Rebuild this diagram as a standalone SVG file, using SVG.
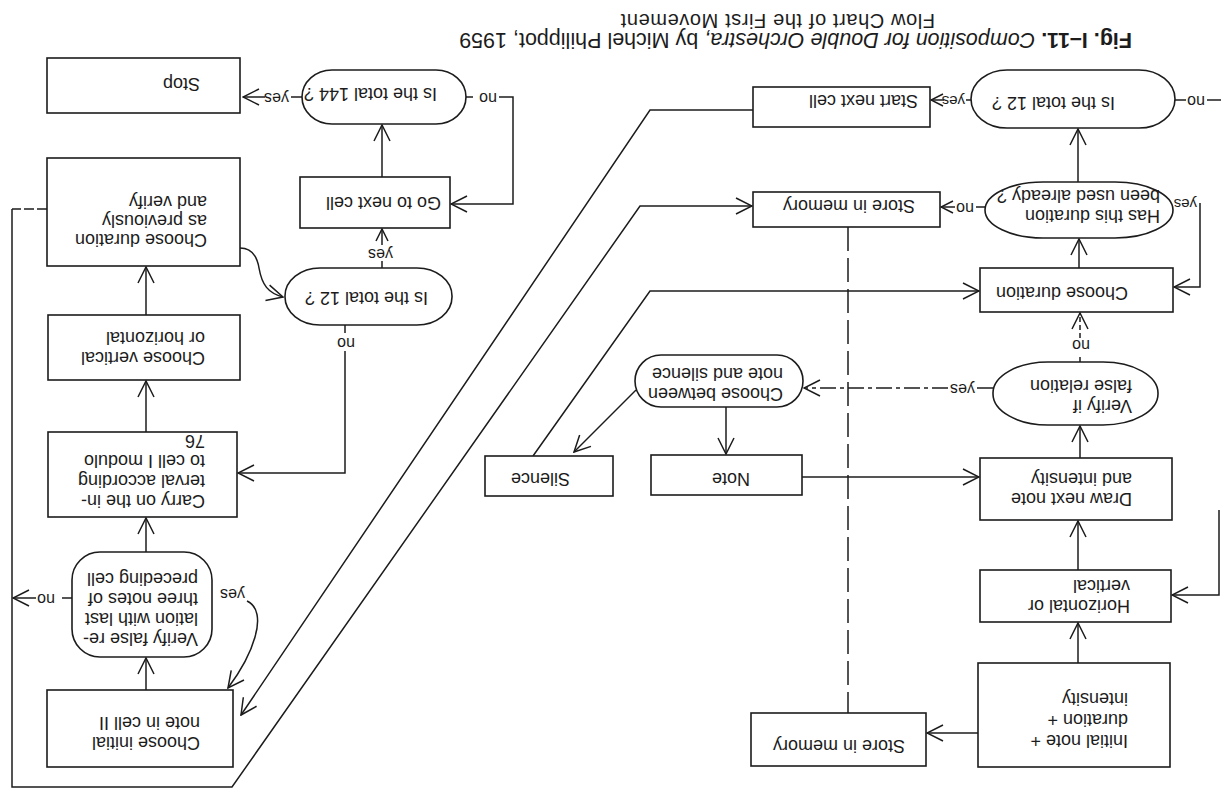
<svg xmlns="http://www.w3.org/2000/svg" width="1221" height="791" viewBox="0 0 1221 791">
<style>
.bx{fill:#fff;stroke:#1c1c1c;stroke-width:1.6}
.t{font-family:"Liberation Sans",Arial,sans-serif;font-size:18px;fill:#1c1c1c}
.lb{font-family:"Liberation Sans",Arial,sans-serif;font-size:16px;fill:#1c1c1c}
.ls{font-family:"Liberation Sans",Arial,sans-serif;font-size:15px;fill:#1c1c1c}
.ln{fill:none;stroke:#1c1c1c;stroke-width:1.5}
.ar{marker-end:url(#ah)}
.as{marker-end:url(#ahs)}
.dl{stroke-dasharray:24 7}
.ds{stroke-dasharray:10 3}
.dn{stroke-dasharray:5 3}
.dd{stroke-dasharray:16 4 4 4}
</style>
<defs>
<marker id="ah" viewBox="0 0 18 18" refX="17" refY="9" markerWidth="18" markerHeight="18" markerUnits="userSpaceOnUse" orient="auto">
<path d="M1,1 L17,9 L1,17" fill="none" stroke="#1c1c1c" stroke-width="1.5"/>
</marker>
<marker id="ahs" viewBox="0 0 14 14" refX="13" refY="7" markerWidth="14" markerHeight="14" markerUnits="userSpaceOnUse" orient="auto">
<path d="M1,1 L13,7 L1,13" fill="none" stroke="#1c1c1c" stroke-width="1.5"/>
</marker>
</defs>
<rect width="1221" height="791" fill="#fff"/>
<g id="caption">
<text class="t" style="font-size:21.5px" transform="translate(1132,33) rotate(180)"><tspan font-weight="bold">Fig. I–11. </tspan><tspan font-style="italic">Composition for Double Orchestra,</tspan><tspan> by Michel Philippot, 1959</tspan></text>
<text class="t" style="font-size:20px;letter-spacing:0.6px" transform="translate(935,14) rotate(180)">Flow Chart of the First Movement</text>
</g>
<g id="connectors">
<path class="ln" d="M302,97 H291"/><path class="ln ar" d="M265,97 H243"/>
<text class="lb" transform="translate(289,93) rotate(180)">yes</text>
<path class="ln" d="M466,97 H473"/><path class="ln ar" d="M499,97 H513 V204 H451"/>
<text class="lb" transform="translate(497,93) rotate(180)">no</text>
<path class="ln ar" d="M382,177 V125"/>
<path class="ln" d="M382,268 V261"/><path class="ln as" d="M382,245 V229"/>
<text class="lb" transform="translate(393,249) rotate(180)">yes</text>
<path class="ln ds" d="M47,209 H12"/>
<path class="ln ar" d="M12,209 V787 H232 L640,206 H752"/>
<path class="ln ar" d="M753,110 H650 L241,715"/>
<path class="ln ar" d="M240,248 C252,248 257,256 259,268 C262,285 268,293 283,297"/>
<path class="ln" d="M345,325 V333"/><path class="ln ar" d="M345,351 V473 H238"/>
<text class="lb" transform="translate(355,338) rotate(180)">no</text>
<path class="ln ar" d="M146,315 V267"/>
<path class="ln ar" d="M146,432 V381"/>
<path class="ln ar" d="M146,552 V518"/>
<path class="ln ar" d="M146,690 V658"/>
<path class="ln" d="M72,598 H62"/><path class="ln ar" d="M36,598 H13"/>
<text class="lb" transform="translate(55,594) rotate(180)">no</text>
<path class="ln ar" d="M247,601 C258,606 260,620 255,637 C250,655 240,672 228,688"/>
<text class="lb" transform="translate(245,589) rotate(180)">yes</text>
<path class="ln ar" d="M533,456 L650,291 H979"/>
<path class="ln ar" d="M636,390 L574,452"/>
<path class="ln ar" d="M726,407 V454"/>
<path class="ln ar" d="M802,477 H979"/>
<path class="ln dl" d="M848,227 V713"/>
<path class="ln" d="M971,100 H966"/><path class="ln as" d="M944,100 H931"/>
<text class="ls" transform="translate(965,96) rotate(180)">yes</text>
<path class="ln" d="M1175,100 H1186"/><path class="ln" d="M1207,100 H1221"/>
<text class="lb" transform="translate(1205,96) rotate(180)">no</text>
<path class="ln ar" d="M1078,182 V129"/>
<path class="ln" d="M985,207 H976"/><path class="ln as" d="M955,207 H941"/>
<text class="lb" transform="translate(974,203) rotate(180)">no</text>
<path class="ln ar" d="M1200,203 V287 H1174"/>
<text class="ls" transform="translate(1197,199) rotate(180)">yes</text>
<path class="ln ar" d="M1079,268 V239"/>
<path class="ln dn" d="M1080,362 V354"/><path class="ln dn ar" d="M1080,338 V313"/>
<text class="lb" transform="translate(1090,340) rotate(180)">no</text>
<path class="ln" d="M993,388 H977"/><path class="ln dd ar" d="M948,388 H804"/>
<text class="lb" transform="translate(975,384) rotate(180)">yes</text>
<path class="ln ar" d="M1080,458 V426"/>
<path class="ln ar" d="M1078,570 V521"/>
<path class="ln ar" d="M1078,663 V623"/>
<path class="ln ar" d="M978,733 H927"/>
<path class="ln ar" d="M1219,510 V595 H1172"/>
</g>
<g id="n-stop"><rect class="bx" x="47" y="58" width="193" height="55"/><text class="t" transform="translate(200,78) rotate(180)">Stop</text></g>
<g id="n-total144"><rect class="bx" x="302" y="70" width="164" height="54" rx="30" ry="27"/><text class="t" transform="translate(437,88) rotate(180)">Is the total 144 ?</text></g>
<g id="n-gonext"><rect class="bx" x="300" y="177" width="150" height="51"/><text class="t" transform="translate(441,197) rotate(180)">Go to next cell</text></g>
<g id="n-durprev"><rect class="bx" x="47" y="158" width="193" height="108"/><text class="t" transform="translate(207,234) rotate(180)"><tspan x="0" y="0">Choose duration</tspan><tspan x="0" y="19">as previously</tspan><tspan x="0" y="38">and verify</tspan></text></g>
<g id="n-total12a"><rect class="bx" x="285" y="268" width="167" height="57" rx="35" ry="28"/><text class="t" transform="translate(428,292) rotate(180)">Is the total 12 ?</text></g>
<g id="n-vert"><rect class="bx" x="48" y="315" width="192" height="65"/><text class="t" transform="translate(205,352) rotate(180)"><tspan x="0" y="0">Choose vertical</tspan><tspan x="0" y="20">or horizontal</tspan></text></g>
<g id="n-carry"><rect class="bx" x="48" y="432" width="189" height="85"/><text class="t" transform="translate(205,495) rotate(180)"><tspan x="0" y="0">Carry on the in-</tspan><tspan x="0" y="20">terval according</tspan><tspan x="0" y="40">to cell I modulo</tspan><tspan x="0" y="60">76</tspan></text></g>
<g id="n-verify3"><rect class="bx" x="72" y="552" width="140" height="105" rx="28" ry="28"/><text class="t" transform="translate(198,633) rotate(180)"><tspan x="0" y="0">Verify false re-</tspan><tspan x="0" y="20">lation with last</tspan><tspan x="0" y="40">three notes of</tspan><tspan x="0" y="60">preceding cell</tspan></text></g>
<g id="n-init2"><rect class="bx" x="47" y="690" width="186" height="77"/><text class="t" transform="translate(200,737) rotate(180)"><tspan x="0" y="0">Choose initial</tspan><tspan x="0" y="20">note in cell  II</tspan></text></g>
<g id="n-start"><rect class="bx" x="753" y="87" width="177" height="40"/><text class="t" transform="translate(918,95) rotate(180)">Start next cell</text></g>
<g id="n-total12b"><rect class="bx" x="971" y="70" width="204" height="58" rx="36" ry="29"/><text class="t" transform="translate(1115,97) rotate(180)">Is the total 12 ?</text></g>
<g id="n-store1"><rect class="bx" x="753" y="192" width="187" height="35"/><text class="t" transform="translate(915,200) rotate(180)">Store in memory</text></g>
<g id="n-hasdur"><rect class="bx" x="985" y="182" width="188" height="56" rx="58" ry="28"/><text class="t" transform="translate(1160,210) rotate(180)"><tspan x="0" y="0">Has this duration</tspan><tspan x="0" y="20">been used already ?</tspan></text></g>
<g id="n-choosedur"><rect class="bx" x="980" y="268" width="193" height="44"/><text class="t" transform="translate(1128,287) rotate(180)">Choose duration</text></g>
<g id="n-verifyif"><rect class="bx" x="993" y="362" width="165" height="63" rx="55" ry="31"/><text class="t" transform="translate(1132,400) rotate(180)"><tspan x="0" y="0">Verify if</tspan><tspan x="0" y="20">false relation</tspan></text></g>
<g id="n-between"><rect class="bx" x="635" y="355" width="168" height="52" rx="26" ry="26"/><text class="t" transform="translate(783,388) rotate(180)"><tspan x="0" y="0">Choose between</tspan><tspan x="0" y="20">note and silence</tspan></text></g>
<g id="n-note"><rect class="bx" x="651" y="455" width="151" height="40"/><text class="t" transform="translate(750,473) rotate(180)">Note</text></g>
<g id="n-silence"><rect class="bx" x="485" y="456" width="128" height="40"/><text class="t" transform="translate(570,473) rotate(180)">Silence</text></g>
<g id="n-draw"><rect class="bx" x="980" y="458" width="192" height="62"/><text class="t" transform="translate(1132,493) rotate(180)"><tspan x="0" y="0">Draw next note</tspan><tspan x="0" y="20">and intensity</tspan></text></g>
<g id="n-horiz"><rect class="bx" x="980" y="570" width="191" height="52"/><text class="t" transform="translate(1130,600) rotate(180)"><tspan x="0" y="0">Horizontal or</tspan><tspan x="0" y="20">vertical</tspan></text></g>
<g id="n-initial"><rect class="bx" x="978" y="663" width="192" height="104"/><text class="t" transform="translate(1128,735) rotate(180)"><tspan x="0" y="0">Initial note +</tspan><tspan x="0" y="21">duration +</tspan><tspan x="0" y="42">intensity</tspan></text></g>
<g id="n-store2"><rect class="bx" x="751" y="713" width="175" height="53"/><text class="t" transform="translate(905,740) rotate(180)">Store in memory</text></g>
</svg>
